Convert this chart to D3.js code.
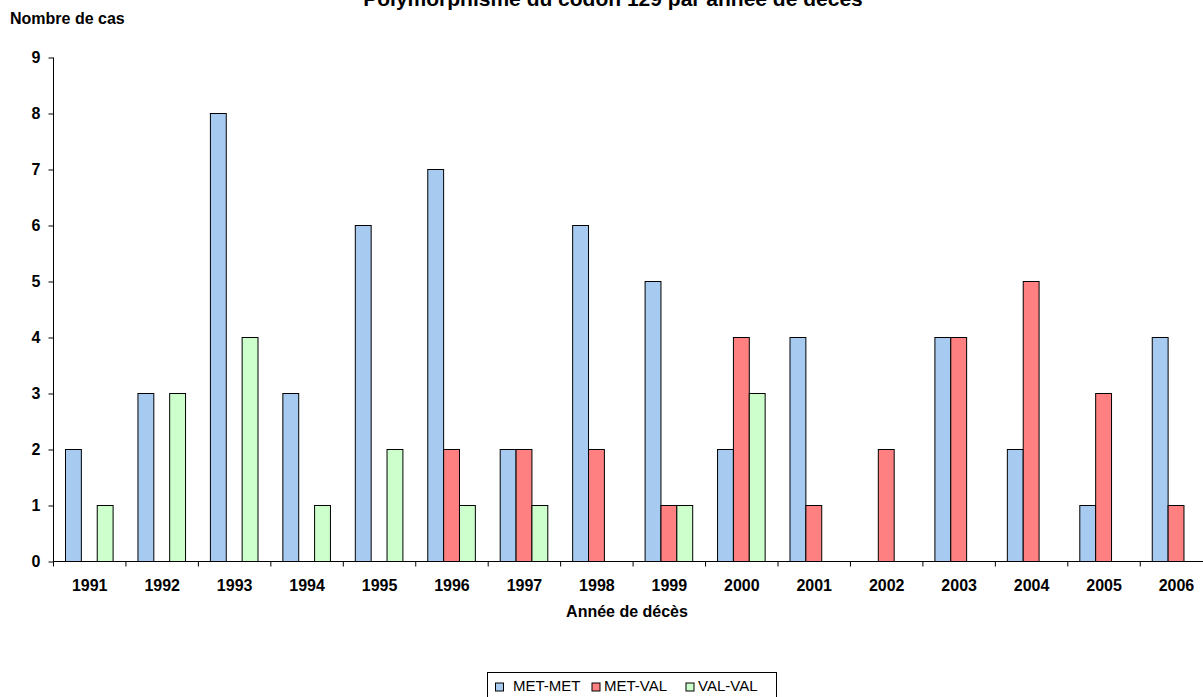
<!DOCTYPE html>
<html>
<head>
<meta charset="utf-8">
<script src="https://cdn.jsdelivr.net/npm/d3@7"></script>
<style>
  body { margin: 0; background: #fff; }
  text { font-family: Arial, "Liberation Sans", sans-serif; }
</style>
</head>
<body>
<div id="chart"></div>
<script>
// Data
var years = ["1991","1992","1993","1994","1995","1996","1997","1998","1999","2000","2001","2002","2003","2004","2005","2006"];
var series = ["MET-MET", "MET-VAL", "VAL-VAL"];
var metMet = [2, 3, 8, 3, 6, 7, 2, 6, 5, 2, 4, 0, 4, 2, 1, 4];
var metVal = [0, 0, 0, 0, 0, 2, 2, 2, 1, 4, 1, 2, 4, 5, 3, 1];
var valVal = [1, 3, 4, 1, 2, 1, 1, 0, 1, 3, 0, 0, 0, 0, 0, 0];
var yTicks = [0, 1, 2, 3, 4, 5, 6, 7, 8, 9];
var colors = ["#A6CAF0", "#FF8080", "#CCFFCC"];

var values = [metMet, metVal, valVal];
var rows = years.map(function (y, i) {
  return { year: y, vals: series.map(function (s, j) { return { key: s, j: j, v: values[j][i] }; }) };
});

var width = 1203, height = 697;

var svg = d3.select("#chart")
  .append("svg")
    .attr("width", width)
    .attr("height", height);

// Scales
var x = d3.scaleBand()
  .domain(years)
  .range([53.5, 53.5 + 16 * 72.45])
  .padding(0);

var xSub = d3.scaleBand()
  .domain(series)
  .range([12, 12 + 47.6])
  .padding(0);

var y = d3.scaleLinear()
  .domain([0, 9])
  .range([561.5, 57.5]);

// Bars
svg.append("g")
  .selectAll("g")
  .data(rows)
  .enter()
  .append("g")
    .attr("transform", function (d) { return "translate(" + x(d.year) + ",0)"; })
  .selectAll("rect")
  .data(function (d) { return d.vals.filter(function (e) { return e.v > 0; }); })
  .enter()
  .append("rect")
    .attr("x", function (d) { return xSub(d.key); })
    .attr("y", function (d) { return y(d.v); })
    .attr("width", xSub.bandwidth())
    .attr("height", function (d) { return y(0) - y(d.v); })
    .style("fill", function (d) { return colors[d.j]; })
    .style("stroke", "#000")
    .style("stroke-width", 1);

// Y axis
var yAxis = svg.append("g")
  .attr("transform", "translate(53.5,0)")
  .call(d3.axisLeft(y).tickValues(yTicks).tickSize(5).tickPadding(8).tickFormat(d3.format("d")));
yAxis.select(".domain").attr("d", "M0," + y(9) + "V" + y(0));
yAxis.selectAll("text").style("font-size", "16px").style("font-weight", "bold").attr("fill", "#000");

// X axis
var xAxis = svg.append("g")
  .attr("transform", "translate(0," + y(0) + ")")
  .call(d3.axisBottom(x).tickSize(0).tickPadding(0));
xAxis.select(".domain").attr("d", "M53.5,0H" + width);
xAxis.selectAll(".tick line").remove();
xAxis.selectAll("text")
  .attr("y", 29.5)
  .attr("dy", 0)
  .style("font-size", "16px")
  .style("font-weight", "bold")
  .attr("fill", "#000");
// category separators
svg.append("g")
  .selectAll("line")
  .data(years)
  .enter()
  .append("line")
    .attr("x1", function (d) { return x(d); })
    .attr("x2", function (d) { return x(d); })
    .attr("y1", y(0))
    .attr("y2", y(0) + 5)
    .style("stroke", "#000");

// Title
svg.append("text")
  .attr("x", 613)
  .attr("y", 6)
  .attr("text-anchor", "middle")
  .style("font-size", "21px")
  .style("font-weight", "bold")
  .text("Polymorphisme du codon 129 par année de décès");

// Y axis label
svg.append("text")
  .attr("x", 10)
  .attr("y", 24)
  .style("font-size", "16px")
  .style("font-weight", "bold")
  .text("Nombre de cas");

// X axis label
svg.append("text")
  .attr("x", 627)
  .attr("y", 617)
  .attr("text-anchor", "middle")
  .style("font-size", "16px")
  .style("font-weight", "bold")
  .text("Année de décès");

// Legend
var legend = svg.append("g").attr("transform", "translate(487.5,672.5)");
legend.append("rect")
  .attr("width", 289)
  .attr("height", 30)
  .style("fill", "#fff")
  .style("stroke", "#000");
var legSq = [8, 104.5, 198.5];
var legTx = [25.5, 116.5, 210.5];
series.forEach(function (s, i) {
  legend.append("rect")
    .attr("x", legSq[i])
    .attr("y", 10.5)
    .attr("width", 8)
    .attr("height", 8)
    .style("fill", colors[i])
    .style("stroke", "#000");
  legend.append("text")
    .attr("x", legTx[i])
    .attr("y", 18)
    .style("font-size", "15px")
    .text(s);
});
</script>
</body>
</html>
